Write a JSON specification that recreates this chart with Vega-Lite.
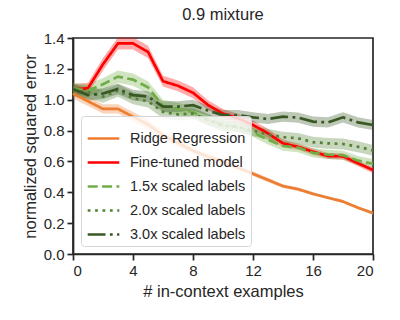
{
  "$schema": "https://vega.github.io/schema/vega-lite/v6.json",
  "autosize": {"type": "none"},
  "padding": {"left": 73, "top": 38, "right": 27, "bottom": 66},
  "width": 300,
  "height": 216,
  "title": {"text": "0.9 mixture", "fontSize": 16.5, "font": "Liberation Sans", "fontWeight": "normal", "color": "#262626", "offset": 8},
  "config": {
    "view": {"stroke": "#262626", "strokeWidth": 1.7},
    "axis": {"grid": false, "domainColor": "#262626", "domainWidth": 1.7, "tickColor": "#262626", "tickWidth": 1.7, "tickSize": 6, "labelFont": "Liberation Sans", "labelFontSize": 15, "labelColor": "#262626", "titleFont": "Liberation Sans", "titleFontSize": 16.5, "titleFontWeight": "normal", "titleColor": "#262626"},
    "legend": {"symbolType": "stroke", "symbolSize": 1000, "symbolStrokeWidth": 2.7, "symbolOpacity": 1, "labelFontSize": 14.5, "labelFont": "Liberation Sans", "labelColor": "#262626", "padding": 5, "rowPadding": -7, "labelOffset": 9, "strokeColor": "#d6d6d6", "fillColor": "rgba(255,255,255,0.8)", "cornerRadius": 3}
  },
  "data": {"values": [
    {"s": "Ridge Regression", "x": 0, "y": 1.04, "lo": 1.01, "hi": 1.07},
    {"s": "Ridge Regression", "x": 1, "y": 0.99, "lo": 0.96, "hi": 1.02},
    {"s": "Ridge Regression", "x": 2, "y": 0.94, "lo": 0.91, "hi": 0.97},
    {"s": "Ridge Regression", "x": 3, "y": 0.94, "lo": 0.91, "hi": 0.97},
    {"s": "Ridge Regression", "x": 4, "y": 0.89, "lo": 0.86, "hi": 0.92},
    {"s": "Ridge Regression", "x": 5, "y": 0.84, "lo": 0.81, "hi": 0.87},
    {"s": "Ridge Regression", "x": 6, "y": 0.77, "lo": 0.745, "hi": 0.795},
    {"s": "Ridge Regression", "x": 7, "y": 0.72, "lo": 0.695, "hi": 0.745},
    {"s": "Ridge Regression", "x": 8, "y": 0.67, "lo": 0.65, "hi": 0.69},
    {"s": "Ridge Regression", "x": 9, "y": 0.63, "lo": 0.61, "hi": 0.65},
    {"s": "Ridge Regression", "x": 10, "y": 0.6, "lo": 0.58, "hi": 0.62},
    {"s": "Ridge Regression", "x": 11, "y": 0.56, "lo": 0.545, "hi": 0.575},
    {"s": "Ridge Regression", "x": 12, "y": 0.52, "lo": 0.505, "hi": 0.535},
    {"s": "Ridge Regression", "x": 13, "y": 0.48, "lo": 0.465, "hi": 0.495},
    {"s": "Ridge Regression", "x": 14, "y": 0.44, "lo": 0.428, "hi": 0.452},
    {"s": "Ridge Regression", "x": 15, "y": 0.42, "lo": 0.408, "hi": 0.432},
    {"s": "Ridge Regression", "x": 16, "y": 0.39, "lo": 0.38, "hi": 0.4},
    {"s": "Ridge Regression", "x": 17, "y": 0.365, "lo": 0.355, "hi": 0.375},
    {"s": "Ridge Regression", "x": 18, "y": 0.34, "lo": 0.33, "hi": 0.35},
    {"s": "Ridge Regression", "x": 19, "y": 0.3, "lo": 0.29, "hi": 0.31},
    {"s": "Ridge Regression", "x": 20, "y": 0.265, "lo": 0.255, "hi": 0.275},

    {"s": "Fine-tuned model", "x": 0, "y": 1.065, "lo": 1.03, "hi": 1.1},
    {"s": "Fine-tuned model", "x": 1, "y": 1.075, "lo": 1.04, "hi": 1.11},
    {"s": "Fine-tuned model", "x": 2, "y": 1.23, "lo": 1.19, "hi": 1.27},
    {"s": "Fine-tuned model", "x": 3, "y": 1.365, "lo": 1.325, "hi": 1.405},
    {"s": "Fine-tuned model", "x": 4, "y": 1.365, "lo": 1.325, "hi": 1.405},
    {"s": "Fine-tuned model", "x": 5, "y": 1.31, "lo": 1.27, "hi": 1.35},
    {"s": "Fine-tuned model", "x": 6, "y": 1.12, "lo": 1.085, "hi": 1.155},
    {"s": "Fine-tuned model", "x": 7, "y": 1.09, "lo": 1.055, "hi": 1.125},
    {"s": "Fine-tuned model", "x": 8, "y": 1.045, "lo": 1.01, "hi": 1.08},
    {"s": "Fine-tuned model", "x": 9, "y": 0.966, "lo": 0.935, "hi": 0.997},
    {"s": "Fine-tuned model", "x": 10, "y": 0.91, "lo": 0.88, "hi": 0.94},
    {"s": "Fine-tuned model", "x": 11, "y": 0.879, "lo": 0.85, "hi": 0.908},
    {"s": "Fine-tuned model", "x": 12, "y": 0.836, "lo": 0.806, "hi": 0.866},
    {"s": "Fine-tuned model", "x": 13, "y": 0.782, "lo": 0.752, "hi": 0.812},
    {"s": "Fine-tuned model", "x": 14, "y": 0.717, "lo": 0.692, "hi": 0.742},
    {"s": "Fine-tuned model", "x": 15, "y": 0.695, "lo": 0.675, "hi": 0.715},
    {"s": "Fine-tuned model", "x": 16, "y": 0.663, "lo": 0.643, "hi": 0.683},
    {"s": "Fine-tuned model", "x": 17, "y": 0.635, "lo": 0.615, "hi": 0.655},
    {"s": "Fine-tuned model", "x": 18, "y": 0.633, "lo": 0.613, "hi": 0.653},
    {"s": "Fine-tuned model", "x": 19, "y": 0.588, "lo": 0.568, "hi": 0.608},
    {"s": "Fine-tuned model", "x": 20, "y": 0.544, "lo": 0.524, "hi": 0.564},

    {"s": "1.5x scaled labels", "x": 0, "y": 1.07, "lo": 1.03, "hi": 1.11},
    {"s": "1.5x scaled labels", "x": 1, "y": 1.06, "lo": 1.02, "hi": 1.1},
    {"s": "1.5x scaled labels", "x": 2, "y": 1.1, "lo": 1.06, "hi": 1.14},
    {"s": "1.5x scaled labels", "x": 3, "y": 1.15, "lo": 1.11, "hi": 1.19},
    {"s": "1.5x scaled labels", "x": 4, "y": 1.13, "lo": 1.09, "hi": 1.17},
    {"s": "1.5x scaled labels", "x": 5, "y": 1.08, "lo": 1.04, "hi": 1.12},
    {"s": "1.5x scaled labels", "x": 6, "y": 0.96, "lo": 0.92, "hi": 1.0},
    {"s": "1.5x scaled labels", "x": 7, "y": 0.94, "lo": 0.9, "hi": 0.98},
    {"s": "1.5x scaled labels", "x": 8, "y": 0.92, "lo": 0.885, "hi": 0.955},
    {"s": "1.5x scaled labels", "x": 9, "y": 0.87, "lo": 0.835, "hi": 0.905},
    {"s": "1.5x scaled labels", "x": 10, "y": 0.84, "lo": 0.805, "hi": 0.875},
    {"s": "1.5x scaled labels", "x": 11, "y": 0.82, "lo": 0.79, "hi": 0.85},
    {"s": "1.5x scaled labels", "x": 12, "y": 0.79, "lo": 0.76, "hi": 0.82},
    {"s": "1.5x scaled labels", "x": 13, "y": 0.74, "lo": 0.71, "hi": 0.77},
    {"s": "1.5x scaled labels", "x": 14, "y": 0.7, "lo": 0.67, "hi": 0.73},
    {"s": "1.5x scaled labels", "x": 15, "y": 0.69, "lo": 0.66, "hi": 0.72},
    {"s": "1.5x scaled labels", "x": 16, "y": 0.655, "lo": 0.625, "hi": 0.685},
    {"s": "1.5x scaled labels", "x": 17, "y": 0.645, "lo": 0.615, "hi": 0.675},
    {"s": "1.5x scaled labels", "x": 18, "y": 0.64, "lo": 0.61, "hi": 0.67},
    {"s": "1.5x scaled labels", "x": 19, "y": 0.605, "lo": 0.575, "hi": 0.635},
    {"s": "1.5x scaled labels", "x": 20, "y": 0.585, "lo": 0.555, "hi": 0.615},

    {"s": "2.0x scaled labels", "x": 0, "y": 1.06, "lo": 1.02, "hi": 1.1},
    {"s": "2.0x scaled labels", "x": 1, "y": 1.05, "lo": 1.01, "hi": 1.09},
    {"s": "2.0x scaled labels", "x": 2, "y": 1.02, "lo": 0.98, "hi": 1.06},
    {"s": "2.0x scaled labels", "x": 3, "y": 1.06, "lo": 1.02, "hi": 1.1},
    {"s": "2.0x scaled labels", "x": 4, "y": 1.01, "lo": 0.97, "hi": 1.05},
    {"s": "2.0x scaled labels", "x": 5, "y": 0.99, "lo": 0.95, "hi": 1.03},
    {"s": "2.0x scaled labels", "x": 6, "y": 0.92, "lo": 0.88, "hi": 0.96},
    {"s": "2.0x scaled labels", "x": 7, "y": 0.905, "lo": 0.865, "hi": 0.945},
    {"s": "2.0x scaled labels", "x": 8, "y": 0.91, "lo": 0.875, "hi": 0.945},
    {"s": "2.0x scaled labels", "x": 9, "y": 0.87, "lo": 0.835, "hi": 0.905},
    {"s": "2.0x scaled labels", "x": 10, "y": 0.83, "lo": 0.795, "hi": 0.865},
    {"s": "2.0x scaled labels", "x": 11, "y": 0.825, "lo": 0.79, "hi": 0.86},
    {"s": "2.0x scaled labels", "x": 12, "y": 0.8, "lo": 0.765, "hi": 0.835},
    {"s": "2.0x scaled labels", "x": 13, "y": 0.775, "lo": 0.74, "hi": 0.81},
    {"s": "2.0x scaled labels", "x": 14, "y": 0.757, "lo": 0.722, "hi": 0.792},
    {"s": "2.0x scaled labels", "x": 15, "y": 0.75, "lo": 0.715, "hi": 0.785},
    {"s": "2.0x scaled labels", "x": 16, "y": 0.725, "lo": 0.69, "hi": 0.76},
    {"s": "2.0x scaled labels", "x": 17, "y": 0.717, "lo": 0.682, "hi": 0.752},
    {"s": "2.0x scaled labels", "x": 18, "y": 0.713, "lo": 0.678, "hi": 0.748},
    {"s": "2.0x scaled labels", "x": 19, "y": 0.695, "lo": 0.66, "hi": 0.73},
    {"s": "2.0x scaled labels", "x": 20, "y": 0.672, "lo": 0.637, "hi": 0.707},

    {"s": "3.0x scaled labels", "x": 0, "y": 1.07, "lo": 1.035, "hi": 1.105},
    {"s": "3.0x scaled labels", "x": 1, "y": 1.03, "lo": 0.995, "hi": 1.065},
    {"s": "3.0x scaled labels", "x": 2, "y": 1.04, "lo": 1.005, "hi": 1.075},
    {"s": "3.0x scaled labels", "x": 3, "y": 1.07, "lo": 1.035, "hi": 1.105},
    {"s": "3.0x scaled labels", "x": 4, "y": 1.03, "lo": 0.995, "hi": 1.065},
    {"s": "3.0x scaled labels", "x": 5, "y": 1.02, "lo": 0.985, "hi": 1.055},
    {"s": "3.0x scaled labels", "x": 6, "y": 0.955, "lo": 0.92, "hi": 0.99},
    {"s": "3.0x scaled labels", "x": 7, "y": 0.955, "lo": 0.92, "hi": 0.99},
    {"s": "3.0x scaled labels", "x": 8, "y": 0.965, "lo": 0.93, "hi": 1.0},
    {"s": "3.0x scaled labels", "x": 9, "y": 0.93, "lo": 0.897, "hi": 0.963},
    {"s": "3.0x scaled labels", "x": 10, "y": 0.9, "lo": 0.867, "hi": 0.933},
    {"s": "3.0x scaled labels", "x": 11, "y": 0.9, "lo": 0.867, "hi": 0.933},
    {"s": "3.0x scaled labels", "x": 12, "y": 0.886, "lo": 0.853, "hi": 0.919},
    {"s": "3.0x scaled labels", "x": 13, "y": 0.875, "lo": 0.842, "hi": 0.908},
    {"s": "3.0x scaled labels", "x": 14, "y": 0.89, "lo": 0.857, "hi": 0.923},
    {"s": "3.0x scaled labels", "x": 15, "y": 0.884, "lo": 0.851, "hi": 0.917},
    {"s": "3.0x scaled labels", "x": 16, "y": 0.858, "lo": 0.825, "hi": 0.891},
    {"s": "3.0x scaled labels", "x": 17, "y": 0.853, "lo": 0.82, "hi": 0.886},
    {"s": "3.0x scaled labels", "x": 18, "y": 0.886, "lo": 0.853, "hi": 0.919},
    {"s": "3.0x scaled labels", "x": 19, "y": 0.853, "lo": 0.82, "hi": 0.886},
    {"s": "3.0x scaled labels", "x": 20, "y": 0.836, "lo": 0.803, "hi": 0.869}
  ]},
  "encoding": {
    "x": {"field": "x", "type": "quantitative", "scale": {"domain": [0, 20], "nice": false}, "axis": {"values": [0, 4, 8, 12, 16, 20], "title": "# in-context examples", "labelPadding": 3, "titlePadding": 5}},
    "color": {"field": "s", "type": "nominal", "title": null,
      "scale": {"domain": ["Ridge Regression", "Fine-tuned model", "1.5x scaled labels", "2.0x scaled labels", "3.0x scaled labels"], "range": ["#ED7D31", "#FF0000", "#70AD47", "#548235", "#385723"]},
      "legend": {"orient": "bottom-left", "offset": 8, "title": null}}
  },
  "layer": [
    {
      "mark": {"type": "area", "fillOpacity": 0.33},
      "encoding": {
        "y": {"field": "lo", "type": "quantitative", "scale": {"domain": [0, 1.4], "nice": false}, "axis": {"values": [0, 0.2, 0.4, 0.6, 0.8, 1.0, 1.2, 1.4], "format": ".1f", "title": "normalized squared error", "labelPadding": 3, "titlePadding": 5}},
        "y2": {"field": "hi"}
      }
    },
    {
      "mark": {"type": "line", "strokeWidth": 2.7},
      "encoding": {
        "y": {"field": "y", "type": "quantitative", "scale": {"domain": [0, 1.4], "nice": false}, "axis": {"values": [0, 0.2, 0.4, 0.6, 0.8, 1.0, 1.2, 1.4], "format": ".1f", "title": "normalized squared error", "labelPadding": 3, "titlePadding": 5}},
        "strokeDash": {"field": "s", "type": "nominal", "title": null,
          "scale": {"domain": ["Ridge Regression", "Fine-tuned model", "1.5x scaled labels", "2.0x scaled labels", "3.0x scaled labels"], "range": [[1, 0], [1, 0], [10, 4.4], [2.8, 4.6], [17.8, 4.4, 2.8, 4.4]]},
          "legend": {"orient": "bottom-left", "offset": 8, "title": null}}
      }
    }
  ]
}
